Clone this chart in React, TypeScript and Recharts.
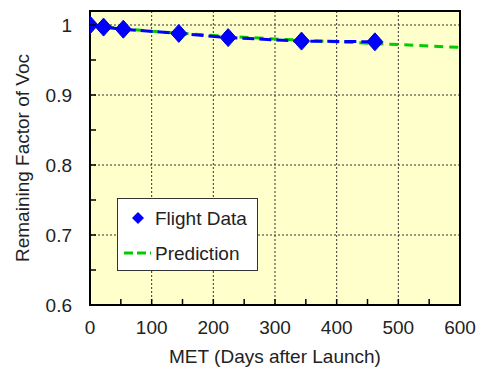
import React from 'react'
import { ComposedChart, Line, XAxis, YAxis, CartesianGrid, ReferenceArea } from 'recharts'

// values
const flightDays = [0, 22, 54, 144, 224, 343, 462]
const flightVoc = [1.0, 0.997, 0.994, 0.988, 0.982, 0.977, 0.976]
const predictionDays = [0, 50, 100, 150, 200, 300, 400, 500, 600]
const predictionVoc = [1.0, 0.995, 0.991, 0.988, 0.985, 0.98, 0.976, 0.972, 0.968]

const xDomain = [0, 600]
const yDomain = [0.6, 1.02]
const xTicks = [0, 50, 100, 150, 200, 250, 300, 350, 400, 450, 500, 550, 600]
const yTicks = [0.6, 0.65, 0.7, 0.75, 0.8, 0.85, 0.9, 0.95, 1.0]
const xGrid = [100, 200, 300, 400, 500]
const yGrid = [0.7, 0.8, 0.9, 1.0]

const flightData = flightDays.map((day, i) => ({ day, voc: flightVoc[i] }))
const predictionData = predictionDays.map((day, i) => ({ day, voc: predictionVoc[i] }))

const FONT = '"Liberation Sans", Arial, sans-serif'
const TEXT = '#222'
const FS = 19

const isMajor = (v: number, step: number) => Math.abs(v / step - Math.round(v / step)) < 1e-6

const XTick = (props: any) => {
  const { x, y, payload } = props
  const v = payload.value
  return (
    <g>
      <line x1={x} y1={y} x2={x} y2={y - 6} stroke="#000" strokeWidth={1.5} />
      {isMajor(v, 100) && (
        <text x={x} y={y + 29} textAnchor="middle" fontSize={FS} fill={TEXT} fontFamily={FONT}>
          {v}
        </text>
      )}
    </g>
  )
}

const YTick = (props: any) => {
  const { x, y, payload } = props
  const v = payload.value
  return (
    <g>
      <line x1={x} y1={y} x2={x + 6} y2={y} stroke="#000" strokeWidth={1.5} />
      {isMajor(v, 0.1) && (
        <text x={x - 18} y={y + 7} textAnchor="end" fontSize={FS} fill={TEXT} fontFamily={FONT}>
          {Math.abs(v - 1) < 1e-6 ? '1' : v.toFixed(1)}
        </text>
      )}
    </g>
  )
}

const Diamond = (props: any) => {
  const { cx, cy, index } = props
  if (cx == null || cy == null) return <g key={index} />
  return (
    <polygon
      key={index}
      points={`${cx},${cy - 9} ${cx + 8},${cy} ${cx},${cy + 9} ${cx - 8},${cy}`}
      fill="#0000ff"
      stroke="#0000cc"
      strokeWidth={1}
    />
  )
}

export default function App() {
  return (
    <div style={{ position: 'relative', width: 484, height: 369, background: '#fff' }}>
      <style>{'body{margin:0}'}</style>
      <ComposedChart width={484} height={369} margin={{ top: 11, right: 24, bottom: 0, left: 0 }}>
        <CartesianGrid
          fill="#ffffcc"
          fillOpacity={1}
          stroke="#333"
          strokeDasharray="2 2"
          verticalValues={xGrid}
          horizontalValues={yGrid}
        />
        <XAxis
          dataKey="day"
          type="number"
          domain={xDomain}
          ticks={xTicks}
          interval={0}
          height={64}
          tickSize={0}
          tickMargin={0}
          tick={<XTick />}
          axisLine={{ stroke: '#000', strokeWidth: 2 }}
          tickLine={false}
          allowDataOverflow
          label={{ value: 'MET (Days after Launch)', position: 'insideBottom', offset: 6, fontSize: FS, fill: TEXT, fontFamily: FONT }}
        />
        <YAxis
          type="number"
          domain={yDomain}
          ticks={yTicks}
          interval={0}
          width={90}
          tickSize={0}
          tickMargin={0}
          tick={<YTick />}
          tickLine={false}
          allowDataOverflow
          axisLine={{ stroke: '#000', strokeWidth: 2 }}
          label={{
            value: 'Remaining Factor of Voc',
            angle: -90,
            position: 'insideLeft',
            offset: 22,
            style: { textAnchor: 'middle' },
            fontSize: FS,
            fill: TEXT,
            fontFamily: FONT,
          }}
        />
        <Line
          data={predictionData}
          dataKey="voc"
          name="Prediction"
          stroke="#00cc00"
          strokeWidth={3}
          strokeDasharray="9 6"
          dot={false}
          isAnimationActive={false}
        />
        <Line
          data={flightData}
          dataKey="voc"
          name="Flight Data"
          stroke="#0000ff"
          strokeWidth={3}
          strokeDasharray="12 5"
          dot={<Diamond />}
          activeDot={false}
          isAnimationActive={false}
        />
        <ReferenceArea
          x1={xDomain[0]}
          x2={xDomain[1]}
          y1={yDomain[0]}
          y2={yDomain[1]}
          fill="none"
          stroke="#000"
          strokeWidth={2}
        />
      </ComposedChart>
      <div
        style={{
          position: 'absolute',
          left: 117,
          top: 198,
          width: 141,
          height: 73,
          boxSizing: 'border-box',
          background: '#fff',
          border: '1px solid #333',
        }}
      >
        <svg width={139} height={71} style={{ position: 'absolute', left: 0, top: 0 }}>
          <polygon points="20,13 26,19 20,25 14,19" fill="#0000ff" />
          <line x1={6} y1={54} x2={33} y2={54} stroke="#00cc00" strokeWidth={3} strokeDasharray="9 4" />
          <text x={37} y={26} fontSize={FS} fill={TEXT} fontFamily={FONT}>Flight Data</text>
          <text x={37} y={61} fontSize={FS} fill={TEXT} fontFamily={FONT}>Prediction</text>
        </svg>
      </div>
    </div>
  )
}
